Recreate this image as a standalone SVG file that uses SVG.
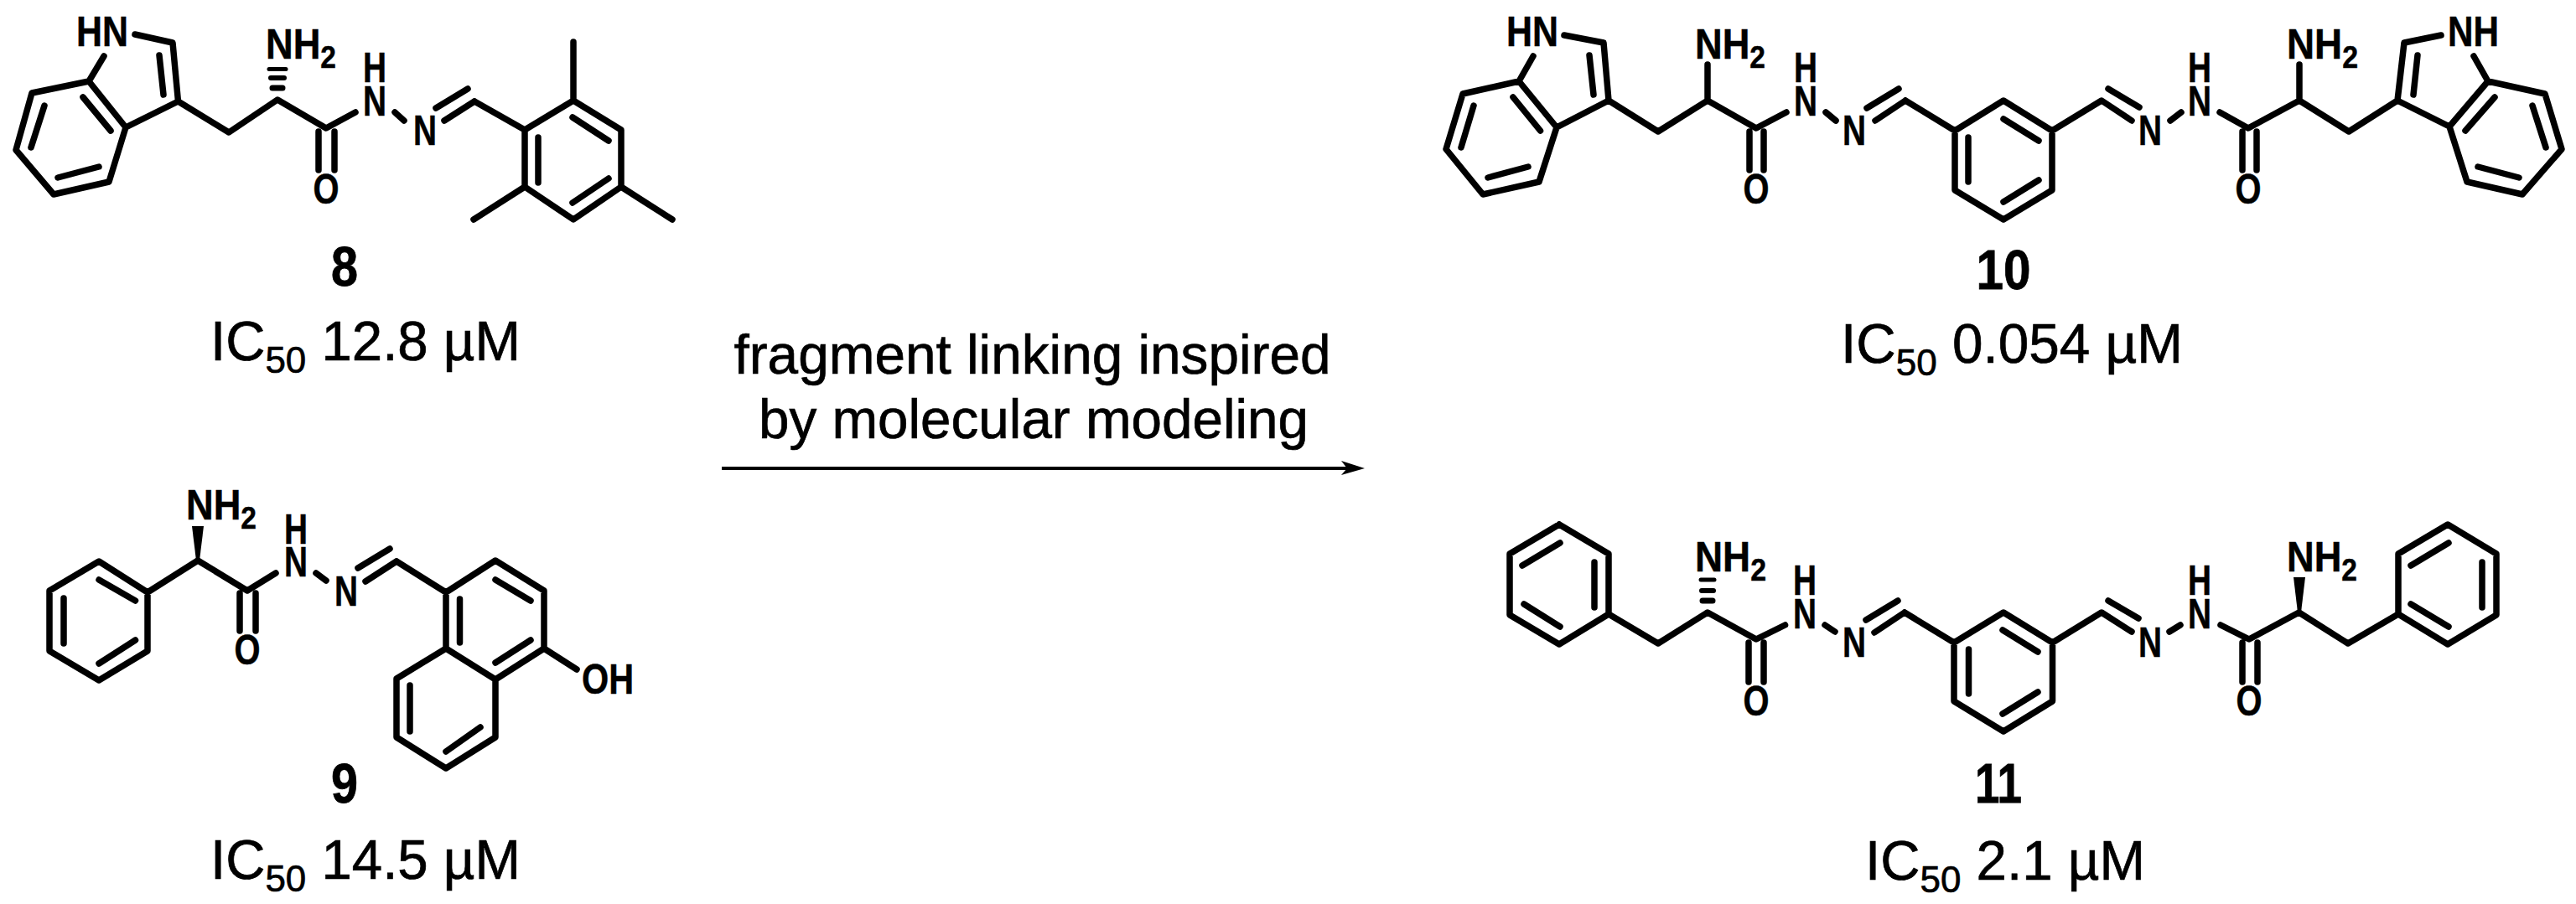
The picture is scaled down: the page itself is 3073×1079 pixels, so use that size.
<svg xmlns="http://www.w3.org/2000/svg" width="3073" height="1079" viewBox="0 0 3073 1079">
<style>
.b{fill:none;stroke:#000;stroke-width:7.5;stroke-linecap:round;stroke-linejoin:round}
.h{fill:none;stroke:#000;stroke-linecap:round}
.a{font-family:"Liberation Sans",Arial,sans-serif;font-weight:700;font-size:50px;fill:#000;stroke:#000;stroke-width:.5}
.m{text-anchor:middle}
.n{font-family:"Liberation Sans",Arial,sans-serif;font-weight:700;font-size:67px;fill:#000;stroke:#000;stroke-width:.8;text-anchor:middle}
.t{font-family:"Liberation Sans",Arial,sans-serif;font-size:67px;fill:#000;stroke:#000;stroke-width:.7}
.s2{font-size:37px}
.s5{font-size:45px}
</style>
<rect width="3073" height="1079" fill="#fff"/>
<g id="mol-8">
<path class="b" d="M161 41L206 51L212.5 121L150 152L106 97L38 111L19 179L64 232L130 217L150 152M124 67L106 97M190 66L195 113M99 116L132 156M53 126L37 176M69 212L118 199M212.5 121L273 158L331 119L389 153L424 134M380 157V203M399 157V203M471 134L482 144M566 121L530 144M520 129L558 106M566 121L626 155L684 120L741 155V223L684 262L626 223V155M684 120V50M741 223L802 262M626 223L565 262M642 164V218M683 140L726 168M726 213L683 242"/>
<path class="h" stroke-width="5" d="M321 82.5H341"/>
<path class="h" stroke-width="6" d="M323 93H339"/>
<path class="h" stroke-width="7" d="M325 105H337"/>
<text class="a" x="91" y="55" textLength="62" lengthAdjust="spacingAndGlyphs">HN</text>
<text class="a" x="317" y="70" textLength="84" lengthAdjust="spacingAndGlyphs">NH<tspan class="s2" dy="11">2</tspan></text>
<text class="a m" x="447" y="98" textLength="28" lengthAdjust="spacingAndGlyphs">H</text>
<text class="a m" x="447" y="138" textLength="28" lengthAdjust="spacingAndGlyphs">N</text>
<text class="a m" x="507" y="173" textLength="28" lengthAdjust="spacingAndGlyphs">N</text>
<text class="a m" x="389" y="243" textLength="31" lengthAdjust="spacingAndGlyphs">O</text>
<text class="n" x="411" y="341" textLength="32" lengthAdjust="spacingAndGlyphs">8</text>
<text class="t" x="251" y="430" textLength="370" lengthAdjust="spacingAndGlyphs">IC<tspan class="s5" dy="15">50</tspan><tspan dy="-15"> 12.8 µM</tspan></text>
</g>
<g id="mol-9">
<path class="b" d="M236 669L176 707L118 670L59 705V777L118 812L176 777V707M161.5 717L118 692M76 714V768M118 792L161.5 764M236 669L295 705L329 684M286 708V753M305 708V753M377 684L389 693M473 670L436 694M427 678L465 655M473 670L532 707L591 669L649 705V774L591 811L532 774V707M548.5 715V767M591 692L633 717M633 764L591 791M532 774L473 810V880L532 917L591 880V811M489 818V873M573 868L532 897M649 774L688 799"/>
<polygon points="229,628 243,628 238,669 234,669" fill="#000"/>
<text class="a" x="222" y="620" textLength="84" lengthAdjust="spacingAndGlyphs">NH<tspan class="s2" dy="11">2</tspan></text>
<text class="a m" x="353" y="649" textLength="28" lengthAdjust="spacingAndGlyphs">H</text>
<text class="a m" x="353" y="688" textLength="28" lengthAdjust="spacingAndGlyphs">N</text>
<text class="a m" x="413" y="723" textLength="28" lengthAdjust="spacingAndGlyphs">N</text>
<text class="a m" x="295" y="793" textLength="31" lengthAdjust="spacingAndGlyphs">O</text>
<text class="a" x="694" y="828" textLength="62" lengthAdjust="spacingAndGlyphs">OH</text>
<text class="n" x="411" y="958" textLength="32" lengthAdjust="spacingAndGlyphs">9</text>
<text class="t" x="251" y="1049" textLength="370" lengthAdjust="spacingAndGlyphs">IC<tspan class="s5" dy="15">50</tspan><tspan dy="-15"> 14.5 µM</tspan></text>
</g>
<g id="mol-10">
<path class="b" d="M1866 42L1913 51L1919 120L1857 152L1812 97L1745 112L1725 178L1769 232L1836 217L1857 152M1829 67L1812 97M1896 66L1901 113M1805 116L1837.5 156M1758 126L1743 176M1775 212L1823 199M1919 120L1978 157L2037 120L2095 153L2131 134M2037 120V77M2087 157V203M2104 157V203M2178 134L2190 144M2273 120L2237 144M2227 129L2265 106M2273 120L2332 156L2390 120L2448 156V227L2390 262L2332 227V156M2348 164V217M2390 142L2432 168M2432 215L2390 241M2448 156L2507 120L2543 144M2515 106L2552 128M2589 144L2602 134M2648 134L2682 153L2743 120L2802 157L2860 120L2868 51L2912 42M2675 157V203M2692 157V203M2743 120V77M2860 120L2922 151L2968 97L3036 112L3056 178L3009 232L2943 217L2922 151M2951 67L2968 97M2884 66L2879 113M2976 116L2941 156M3021 126L3037 176M3005 212L2956 199"/>
<text class="a" x="1797" y="55" textLength="62" lengthAdjust="spacingAndGlyphs">HN</text>
<text class="a" x="2022" y="70" textLength="84" lengthAdjust="spacingAndGlyphs">NH<tspan class="s2" dy="11">2</tspan></text>
<text class="a m" x="2154" y="98" textLength="28" lengthAdjust="spacingAndGlyphs">H</text>
<text class="a m" x="2154" y="138" textLength="28" lengthAdjust="spacingAndGlyphs">N</text>
<text class="a m" x="2212" y="173" textLength="28" lengthAdjust="spacingAndGlyphs">N</text>
<text class="a m" x="2095" y="243" textLength="31" lengthAdjust="spacingAndGlyphs">O</text>
<text class="a m" x="2565" y="173" textLength="28" lengthAdjust="spacingAndGlyphs">N</text>
<text class="a m" x="2624" y="98" textLength="28" lengthAdjust="spacingAndGlyphs">H</text>
<text class="a m" x="2624" y="138" textLength="28" lengthAdjust="spacingAndGlyphs">N</text>
<text class="a m" x="2682" y="243" textLength="31" lengthAdjust="spacingAndGlyphs">O</text>
<text class="a" x="2728" y="70" textLength="85" lengthAdjust="spacingAndGlyphs">NH<tspan class="s2" dy="11">2</tspan></text>
<text class="a" x="2920" y="55" textLength="61" lengthAdjust="spacingAndGlyphs">NH</text>
<text class="n" x="2390" y="345" textLength="65" lengthAdjust="spacingAndGlyphs">10</text>
<text class="t" x="2196" y="433" textLength="408" lengthAdjust="spacingAndGlyphs">IC<tspan class="s5" dy="15">50</tspan><tspan dy="-15"> 0.054 µM</tspan></text>
</g>
<g id="mol-11">
<path class="b" d="M1860 626L1801 661V734L1860 769L1919 733V661L1860 626M1816 675L1861 648M1902 671V725M1818 721L1861 748M1919 733L1978 768L2037 731L2095 763L2129.5 746M2086 767V814M2104 767V814M2177 746L2189 754M2272 731L2236 755M2226 740L2264 717M2272 731L2331 767L2390 731L2448.5 767V837L2390 873L2331 837V767M2348.5 775V828M2389 752L2431 778M2431 826L2389 852M2448.5 767L2507 731L2543 754M2515 717L2551 738M2588 754L2601 746M2649 746L2683 763L2742.5 731L2801 768L2861 733L2920 769L2978 734V661L2920 626L2861 661V733M2876 675L2921 648M2961 671V725M2876 721L2921 748M2675 767V814M2693 767V814"/>
<path class="h" stroke-width="5" d="M2029 692H2045"/>
<path class="h" stroke-width="6" d="M2030 705H2044"/>
<path class="h" stroke-width="7" d="M2031 717H2043"/>
<polygon points="2736,689 2750,689 2745,731 2741,731" fill="#000"/>
<text class="a" x="2022" y="682" textLength="85" lengthAdjust="spacingAndGlyphs">NH<tspan class="s2" dy="11">2</tspan></text>
<text class="a m" x="2153" y="710" textLength="28" lengthAdjust="spacingAndGlyphs">H</text>
<text class="a m" x="2153" y="750" textLength="28" lengthAdjust="spacingAndGlyphs">N</text>
<text class="a m" x="2212" y="784" textLength="28" lengthAdjust="spacingAndGlyphs">N</text>
<text class="a m" x="2095" y="854" textLength="31" lengthAdjust="spacingAndGlyphs">O</text>
<text class="a m" x="2565" y="784" textLength="28" lengthAdjust="spacingAndGlyphs">N</text>
<text class="a m" x="2624" y="710" textLength="28" lengthAdjust="spacingAndGlyphs">H</text>
<text class="a m" x="2624" y="750" textLength="28" lengthAdjust="spacingAndGlyphs">N</text>
<text class="a m" x="2683" y="854" textLength="31" lengthAdjust="spacingAndGlyphs">O</text>
<text class="a" x="2728" y="682" textLength="84" lengthAdjust="spacingAndGlyphs">NH<tspan class="s2" dy="11">2</tspan></text>
<text class="n" x="2384" y="958" textLength="56" lengthAdjust="spacingAndGlyphs">11</text>
<text class="t" x="2225" y="1050" textLength="334" lengthAdjust="spacingAndGlyphs">IC<tspan class="s5" dy="15">50</tspan><tspan dy="-15"> 2.1 µM</tspan></text>
</g>
<g id="connectors">
<line x1="861" y1="559" x2="1607" y2="559" stroke="#000" stroke-width="4"/>
<polygon points="1600,550 1628,559 1600,567 1607,559" fill="#000"/>
<text class="t" x="875.5" y="446" textLength="712" lengthAdjust="spacingAndGlyphs">fragment linking inspired</text>
<text class="t" x="905" y="523" textLength="656" lengthAdjust="spacingAndGlyphs">by molecular modeling</text>
</g>
</svg>
